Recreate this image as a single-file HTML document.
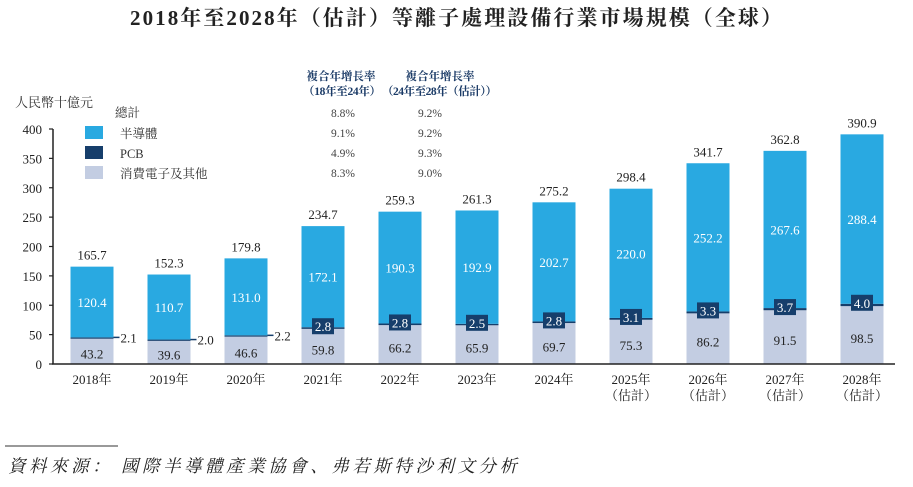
<!DOCTYPE html>
<html><head><meta charset="utf-8"><style>
body{margin:0;background:#fff;}
svg text{font-family:"Liberation Serif","Noto Serif CJK SC","Noto Sans CJK TC",serif;}
</style></head><body>
<svg id="c" width="913" height="482" xmlns="http://www.w3.org/2000/svg">
<text x="130" y="25" textLength="652" lengthAdjust="spacing" font-size="21" font-weight="bold" fill="#222">2018年至2028年（估計）等離子處理設備行業市場規模（全球）</text>
<text x="15" y="107" font-size="13" fill="#333">人民幣十億元</text>
<g id="legend">
<text x="341" y="80" text-anchor="middle" font-size="11.5" font-weight="bold" fill="#1a3a66">複合年增長率</text>
<text x="303" y="95" textLength="78" lengthAdjust="spacing" font-size="11.5" font-weight="bold" fill="#1a3a66">（18年至24年）</text>
<text x="440" y="80" text-anchor="middle" font-size="11.5" font-weight="bold" fill="#1a3a66">複合年增長率</text>
<text x="382" y="95" textLength="115" lengthAdjust="spacing" font-size="11.5" font-weight="bold" fill="#1a3a66">（24年至28年（估計））</text>
<text x="115" y="117" font-size="12.5" fill="#333">總計</text>
<rect x="85" y="126" width="18" height="13" fill="#29a9e1"/>
<text x="120" y="138" font-size="12.5" fill="#333">半導體</text>
<rect x="85" y="146" width="18" height="13" fill="#163e6b"/>
<text x="120" y="158" font-size="12.5" fill="#333">PCB</text>
<rect x="85" y="166" width="18" height="13" fill="#c3cde2"/>
<text x="120" y="178" font-size="12.5" fill="#333">消費電子及其他</text>
</g>
<g id="bars"></g>
<line x1="5" y1="446" x2="118" y2="446" stroke="#333" stroke-width="1"/>
<text x="8" y="472" textLength="509" lengthAdjust="spacing" font-size="17.5" font-style="italic" fill="#222">資料來源： 國際半導體產業協會、弗若斯特沙利文分析</text>
</svg>
<script>
const categories=["2018年","2019年","2020年","2021年","2022年","2023年","2024年","2025年","2026年","2027年","2028年"];
const estimated=[false,false,false,false,false,false,false,true,true,true,true];
const consumer=[43.2,39.6,46.6,59.8,66.2,65.9,69.7,75.3,86.2,91.5,98.5];
const pcb=[2.1,2.0,2.2,2.8,2.8,2.5,2.8,3.1,3.3,3.7,4.0];
const semi=[120.4,110.7,131.0,172.1,190.3,192.9,202.7,220.0,252.2,267.6,288.4];
const totals=[165.7,152.3,179.8,234.7,259.3,261.3,275.2,298.4,341.7,362.8,390.9];
const yTicks=[0,50,100,150,200,250,300,350,400];
const cagrLabels=["8.8%","9.1%","4.9%","8.3%"];
const cagrLabels2=["9.2%","9.2%","9.3%","9.0%"];
const NS="http://www.w3.org/2000/svg";
const g=document.getElementById('bars');
const y0=364,yMax=400,yH=235;
const y=v=>y0-v/yMax*yH;
const x=i=>92+i*77;
const bw=43;
function mk(tag,attrs,parent,text){const e=document.createElementNS(NS,tag);for(const k in attrs)e.setAttribute(k,attrs[k]);if(text!==undefined)e.textContent=text;(parent||g).appendChild(e);return e;}
const leg=document.getElementById('legend');
cagrLabels.forEach((t,i)=>{
 const a=mk('text',{x:343,y:117+i*20,'text-anchor':'middle','font-size':11.5,fill:'#444'},leg,t);
 
 
 const b=mk('text',{x:430,y:117+i*20,'text-anchor':'middle','font-size':11.5,fill:'#444'},leg,cagrLabels2[i]);
 
 
});
const ax=mk('line',{x1:53,y1:y(0),x2:53,y2:y(400),stroke:'#222','stroke-width':1.5});


yTicks.forEach(t=>{
 const tk=mk('line',{x1:49,y1:y(t),x2:53,y2:y(t),stroke:'#222','stroke-width':1.2});
 
 
 const tl=mk('text',{x:42,y:y(t)+5,'text-anchor':'end','font-size':13,fill:'#222'},g,t);
 
 
});
categories.forEach((c,i)=>{
 const cx=x(i),l=cx-bw/2;
 const r1=mk('rect',{x:l,y:y(consumer[i]),width:bw,height:y(0)-y(consumer[i]),fill:'#c3cde2'});
 
 
 const p0=consumer[i],p1=consumer[i]+pcb[i];
 const r2=mk('rect',{x:l,y:y(p1),width:bw,height:Math.max(1.3,y(p0)-y(p1)),fill:'#163e6b'});
 
 
 const r3=mk('rect',{x:l,y:y(p1+semi[i]),width:bw,height:y(p1)-y(p1+semi[i]),fill:'#29a9e1'});
 
 
 const t1=mk('text',{x:cx,y:(y(0)+y(p0))/2+5+(i<3?2:3),'text-anchor':'middle','font-size':13,fill:'#222'},g,consumer[i].toFixed(1));
 
 
 const t3=mk('text',{x:cx,y:(y(p1)+y(p1+semi[i]))/2+5,'text-anchor':'middle','font-size':13,fill:'#fff'},g,semi[i].toFixed(1));
 
 
 if(i<3){
  const ln=mk('line',{x1:cx+bw/2,y1:y(p1),x2:cx+bw/2+6,y2:y(p1),stroke:'#163e6b','stroke-width':1.5});
  
  
  const t2=mk('text',{x:cx+bw/2+7,y:y(p1)+5,'font-size':13,fill:'#222'},g,pcb[i].toFixed(1));
  
  
 } else {
  const bx=mk('rect',{x:cx-11,y:y(p1)-9,width:22,height:16,fill:'#163e6b'});
  
  
  const t2=mk('text',{x:cx,y:y(p1)+4,'text-anchor':'middle','font-size':13,fill:'#fff'},g,pcb[i].toFixed(1));
  
  
 }
 const tt=mk('text',{x:cx,y:y(totals[i])-7,'text-anchor':'middle','font-size':13,fill:'#222'},g,totals[i].toFixed(1));
 
 
 const xl=mk('text',{x:cx,y:384,'text-anchor':'middle','font-size':13,fill:'#222'},g,c);
 
 
 if(estimated[i]){
  const el=mk('text',{x:cx,y:400,'text-anchor':'middle','font-size':13,fill:'#222'},g,'（估計）');
  
  
 }
});
const xa=mk('line',{x1:52,y1:y0,x2:895,y2:y0,stroke:'#222','stroke-width':1.5});


</script>
</body></html>
